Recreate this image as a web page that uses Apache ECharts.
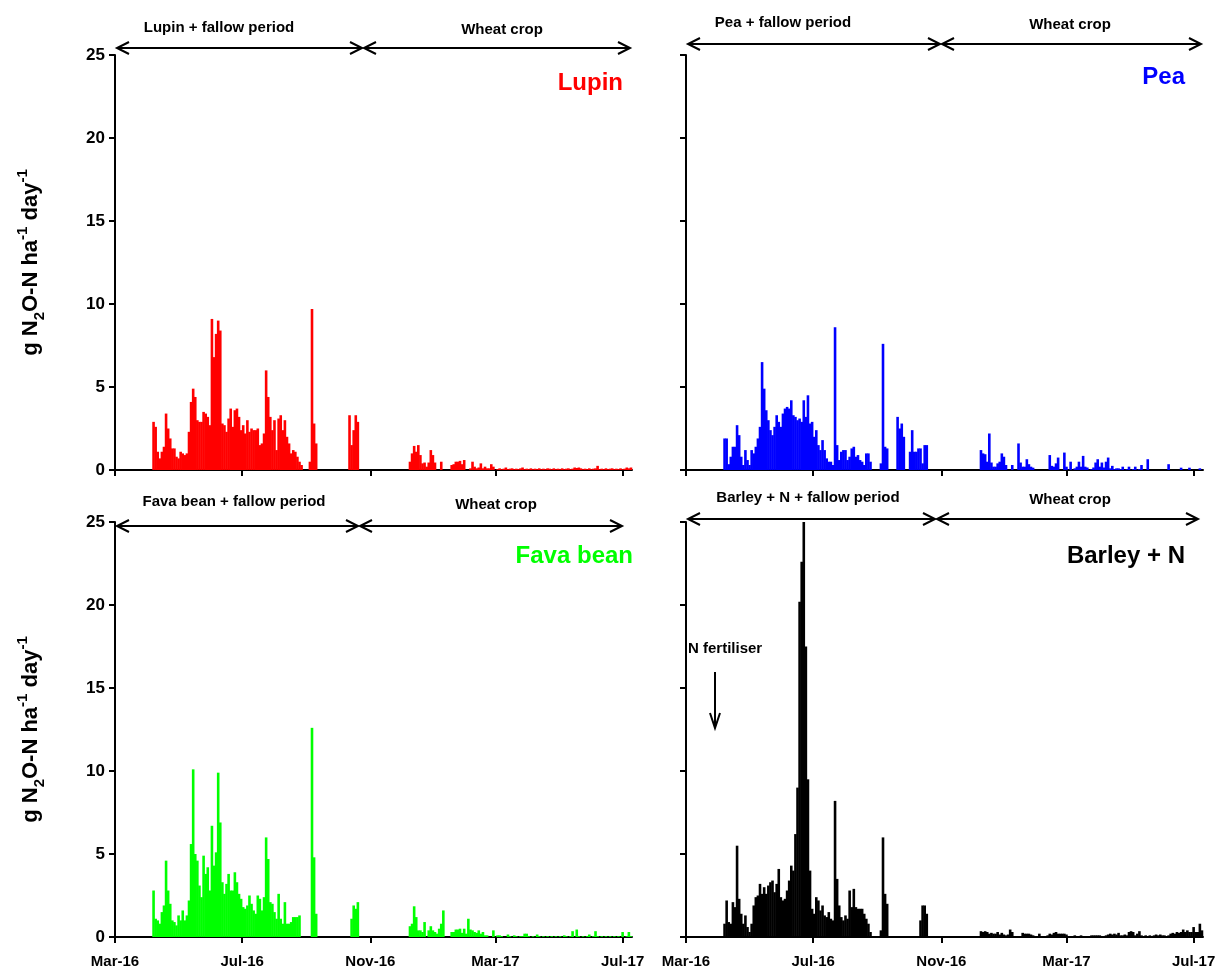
<!DOCTYPE html>
<html>
<head>
<meta charset="utf-8">
<script src="https://cdn.jsdelivr.net/npm/echarts@6/dist/echarts.min.js"></script>
<style>
  html, body { margin: 0; padding: 0; background: #fff; }
  #chart { width: 1229px; height: 977px; }
</style>
</head>
<body>
<div id="chart"></div>
<script>
'use strict';

// daily N2O flux, one value every 2 days starting 1 Apr 2016 (g N2O-N / ha / day)
var lupin = [
  0, 0, 0, 2.9, 2.6, 1.1, 0.7, 1.1, 1.4, 3.4,
  2.5, 1.9, 1.3, 1.3, 0.8, 0.7, 1.1, 1.0, 0.9, 1.0,
  2.3, 4.1, 4.9, 4.4, 3.0, 2.9, 2.9, 3.5, 3.4, 3.2,
  2.7, 9.1, 6.8, 8.2, 9.0, 8.4, 2.8, 2.7, 2.3, 3.1,
  3.7, 2.6, 3.6, 3.7, 3.2, 2.4, 2.7, 2.2, 3.0, 2.3,
  2.5, 2.4, 2.4, 2.5, 1.5, 1.6, 2.2, 6.0, 4.4, 3.2,
  2.4, 3.0, 1.2, 3.1, 3.3, 2.4, 3.0, 2.0, 1.6, 1.0,
  1.2, 1.1, 0.8, 0.5, 0.3, 0, 0, 0, 0.5, 9.7,
  2.8, 1.6, 0, 0, 0, 0, 0, 0, 0, 0,
  0, 0, 0, 0, 0, 0, 0, 3.3, 1.5, 2.4,
  3.3, 2.9, 0, 0, 0, 0, 0, 0, 0, 0,
  0, 0, 0, 0, 0, 0, 0, 0, 0, 0,
  0, 0, 0, 0, 0, 0, 0.5, 1.0, 1.45, 1.1,
  1.5, 0.9, 0.4, 0.45, 0.2, 0.45, 1.2, 0.9, 0.45, 0,
  0, 0.5, 0, 0, 0, 0, 0.3, 0.35, 0.5, 0.5,
  0.55, 0.35, 0.6, 0, 0, 0.1, 0.5, 0.2, 0.1, 0.15,
  0.4, 0.1, 0.2, 0.1, 0.1, 0.35, 0.2, 0, 0.05, 0.1,
  0.05, 0.08, 0.15, 0.05, 0.08, 0.1, 0.05, 0.08, 0.05, 0.1,
  0.15, 0.05, 0.08, 0.05, 0.1, 0.05, 0.08, 0.05, 0.1, 0.05,
  0.08, 0.05, 0.1, 0.08, 0.05, 0.1, 0.05, 0.08, 0.05, 0.1,
  0.05, 0.08, 0.1, 0.05, 0.08, 0.15, 0.12, 0.15, 0.1, 0.05,
  0.08, 0.05, 0.1, 0.05, 0.08, 0.1, 0.25, 0.05, 0.08, 0.05,
  0.1, 0.05, 0.08, 0.1, 0.05, 0.08, 0.05, 0.1, 0.05, 0.08,
  0.15, 0.1, 0.15
];

var pea = [
  0, 0, 0, 1.9, 1.9, 0.35, 0.8, 1.4, 1.4, 2.7,
  2.1, 0.8, 0.3, 1.2, 0.6, 0.3, 1.2, 1.0, 1.4, 1.9,
  2.6, 6.5, 4.9, 3.6, 3.0, 2.4, 2.1, 2.6, 3.3, 2.9,
  2.6, 3.4, 3.7, 3.8, 3.7, 4.2, 3.3, 3.2, 3.0, 3.1,
  2.9, 4.2, 3.2, 4.5, 2.8, 2.9, 2.0, 2.4, 1.5, 1.2,
  1.8, 1.2, 0.7, 0.5, 0.5, 0.3, 8.6, 1.5, 0.6, 1.1,
  1.2, 1.2, 0.6, 0.8, 1.3, 1.4, 0.8, 0.9, 0.6, 0.5,
  0.3, 1.0, 1.0, 0.5, 0, 0, 0, 0, 0.4, 7.6,
  1.4, 1.3, 0, 0, 0, 0, 3.2, 2.5, 2.8, 2.0,
  0, 0, 1.1, 2.4, 1.1, 1.1, 1.3, 1.3, 0.4, 1.5,
  1.5, 0, 0, 0, 0, 0, 0, 0, 0, 0,
  0, 0, 0, 0, 0, 0, 0, 0, 0, 0,
  0, 0, 0, 0, 0, 0, 1.2, 1.0, 0.95, 0.5,
  2.2, 0.45, 0.2, 0.2, 0.4, 0.5, 1.0, 0.8, 0.3, 0,
  0, 0.3, 0, 0, 1.6, 0.45, 0.2, 0.2, 0.65, 0.35,
  0.2, 0.14, 0, 0, 0, 0, 0, 0, 0, 0.9,
  0.25, 0.2, 0.4, 0.75, 0, 0, 1.05, 0.2, 0, 0.5,
  0, 0.1, 0.2, 0.5, 0.2, 0.85, 0.2, 0.15, 0, 0.05,
  0.15, 0.45, 0.65, 0.2, 0.45, 0.15, 0.5, 0.75, 0.1, 0.25,
  0.05, 0.1, 0.1, 0.05, 0.2, 0, 0.05, 0.2, 0, 0.05,
  0.2, 0, 0.05, 0.3, 0, 0, 0.65, 0, 0, 0,
  0, 0, 0, 0, 0, 0, 0.35, 0, 0, 0,
  0, 0, 0.14, 0, 0, 0, 0.14, 0, 0, 0,
  0, 0.1, 0
];

var fava = [
  0, 0, 0, 2.8, 1.1, 1.0, 0.8, 1.5, 1.9, 4.6,
  2.8, 2.0, 1.0, 0.9, 0.7, 1.3, 1.0, 1.6, 1.0, 1.3,
  2.2, 5.6, 10.1, 5.0, 4.6, 3.1, 2.4, 4.9, 3.8, 4.2,
  2.8, 6.7, 4.3, 5.1, 9.9, 6.9, 3.3, 2.6, 3.2, 3.8,
  2.8, 2.8, 3.9, 3.3, 2.6, 2.3, 1.8, 1.7, 1.9, 2.5,
  2.0, 1.6, 1.4, 2.5, 2.3, 1.6, 2.4, 6.0, 4.7, 2.1,
  2.0, 1.5, 1.1, 2.6, 1.1, 0.8, 2.1, 0.8, 0.8, 0.9,
  1.2, 1.2, 1.2, 1.3, 0, 0, 0, 0, 0, 12.6,
  4.8, 1.4, 0, 0, 0, 0, 0, 0, 0, 0,
  0, 0, 0, 0, 0, 0, 0, 0, 1.1, 1.9,
  1.7, 2.1, 0, 0, 0, 0, 0, 0, 0, 0,
  0, 0, 0, 0, 0, 0, 0, 0, 0, 0,
  0, 0, 0, 0, 0, 0, 0.65, 0.8, 1.85, 1.2,
  0.4, 0.4, 0.3, 0.9, 0, 0.4, 0.65, 0.4, 0.3, 0.2,
  0.5, 0.8, 1.6, 0, 0, 0, 0.3, 0.3, 0.45, 0.45,
  0.5, 0.25, 0.5, 0.2, 1.1, 0.45, 0.4, 0.3, 0.25, 0.4,
  0.2, 0.3, 0.1, 0.1, 0, 0, 0.4, 0, 0.1, 0.1,
  0.05, 0, 0, 0.15, 0.05, 0, 0.1, 0.05, 0, 0.05,
  0.05, 0.2, 0.2, 0.05, 0, 0.05, 0, 0.15, 0.05, 0,
  0.05, 0, 0.05, 0, 0.05, 0, 0.05, 0, 0.05, 0,
  0.1, 0.05, 0, 0.05, 0.35, 0, 0.45, 0.05, 0, 0.05,
  0, 0.05, 0.15, 0, 0.05, 0.35, 0.05, 0, 0.05, 0,
  0.05, 0, 0.05, 0, 0.05, 0, 0.05, 0, 0.3, 0,
  0.05, 0.3, 0.05
];

var barleyN = [
  0, 0, 0, 0.8, 2.2, 0.9, 0.8, 2.1, 1.8, 5.5,
  2.3, 1.4, 0.8, 1.3, 0.6, 0.3, 0.8, 1.9, 2.4, 2.5,
  3.2, 2.6, 3.0, 2.6, 3.1, 3.3, 3.4, 2.7, 3.2, 4.1,
  2.4, 2.2, 2.3, 2.8, 3.4, 4.3, 4.0, 6.2, 9.0, 20.2,
  22.6, 25.0, 17.5, 9.5, 4.0, 1.7, 1.4, 2.4, 2.2, 1.6,
  1.9, 1.3, 1.2, 1.5, 1.1, 1.0, 8.2, 3.5, 1.9, 1.2,
  1.0, 1.3, 1.1, 2.8, 1.8, 2.9, 1.8, 1.7, 1.7, 1.7,
  1.4, 1.1, 0.8, 0.3, 0, 0, 0, 0, 0.4, 6.0,
  2.6, 2.0, 0, 0, 0, 0, 0, 0, 0, 0,
  0, 0, 0, 0, 0, 0, 0, 1.0, 1.9, 1.9,
  1.4, 0, 0, 0, 0, 0, 0, 0, 0, 0,
  0, 0, 0, 0, 0, 0, 0, 0, 0, 0,
  0, 0, 0, 0, 0, 0, 0.35, 0.3, 0.35, 0.3,
  0.2, 0.25, 0.2, 0.2, 0.3, 0.15, 0.25, 0.15, 0.1, 0.15,
  0.45, 0.3, 0, 0, 0.05, 0, 0.25, 0.2, 0.2, 0.2,
  0.15, 0.1, 0.05, 0.05, 0.2, 0.05, 0.05, 0.05, 0.1, 0.2,
  0.15, 0.25, 0.3, 0.2, 0.2, 0.2, 0.2, 0.15, 0.05, 0.05,
  0.05, 0.1, 0.05, 0.05, 0.1, 0.05, 0.05, 0.05, 0.05, 0.1,
  0.1, 0.1, 0.1, 0.1, 0.05, 0.05, 0.1, 0.15, 0.2, 0.15,
  0.2, 0.15, 0.25, 0.1, 0.1, 0.15, 0.1, 0.3, 0.35, 0.3,
  0.1, 0.2, 0.35, 0.1, 0.05, 0.1, 0.05, 0.1, 0.05, 0.1,
  0.15, 0.1, 0.15, 0.1, 0.1, 0.05, 0.1, 0.2, 0.25, 0.2,
  0.3, 0.25, 0.3, 0.45, 0.3, 0.4, 0.3, 0.3, 0.6, 0.3,
  0.3, 0.8, 0.4
];

var tickDates = [Date.UTC(2016, 2, 1), Date.UTC(2016, 6, 1), Date.UTC(2016, 10, 1), Date.UTC(2017, 2, 1), Date.UTC(2017, 6, 1)];
var tickLabels = ['Mar-16', 'Jul-16', 'Nov-16', 'Mar-17', 'Jul-17'];

var DAY = 86400000;
var startDate = Date.UTC(2016, 3, 1);
var FONT = '"Liberation Sans", Arial, sans-serif';

function toPairs(values) {
    return values.map(function (v, i) { return [startDate + i * 2 * DAY, v]; });
}

var panels = [
    { name: 'Lupin', color: '#ff0000', data: lupin, left: 115, top: 55, yLabels: true, xLabels: false },
    { name: 'Pea', color: '#0000ff', data: pea, left: 686, top: 55, yLabels: false, xLabels: false },
    { name: 'Fava bean', color: '#00ff00', data: fava, left: 115, top: 522, yLabels: true, xLabels: true },
    { name: 'Barley + N', color: '#000000', data: barleyN, left: 686, top: 522, yLabels: false, xLabels: true }
];

var grids = [], xAxes = [], yAxes = [], series = [];
panels.forEach(function (p, k) {
    grids.push({ left: p.left, top: p.top, width: 517, height: 415 });
    // dates kept as plain timestamps on a value axis so the ticks can sit on the 1st of the month
    xAxes.push({
        type: 'value',
        gridIndex: k,
        min: Date.UTC(2016, 2, 1),
        max: Date.UTC(2017, 6, 10),
        splitLine: { show: false },
        axisLine: { onZero: false, lineStyle: { color: '#000', width: 2 } },
        axisTick: { show: true, inside: false, length: 6, lineStyle: { color: '#000', width: 2 }, customValues: tickDates },
        axisLabel: {
            show: p.xLabels,
            customValues: tickDates,
            margin: 17,
            color: '#000',
            fontFamily: FONT,
            fontWeight: 'bold',
            fontSize: 15,
            showMinLabel: true,
            showMaxLabel: true,
            hideOverlap: false,
            formatter: function (v) {
                var idx = tickDates.indexOf(v);
                return idx >= 0 ? tickLabels[idx] : '';
            }
        }
    });
    yAxes.push({
        type: 'value',
        gridIndex: k,
        min: 0,
        max: 25,
        interval: 5,
        splitLine: { show: false },
        axisLine: { show: true, lineStyle: { color: '#000', width: 2 } },
        axisTick: { show: true, inside: false, length: 6, lineStyle: { color: '#000', width: 2 } },
        axisLabel: {
            show: p.yLabels,
            margin: 10,
            color: '#000',
            fontFamily: FONT,
            fontWeight: 'bold',
            fontSize: 17
        },
        name: p.yLabels ? '{b|g N}{sub|2}{b|O-N ha}{sup|-1}{b| day}{sup|-1}' : '',
        nameLocation: 'middle',
        nameGap: 68,
        nameTextStyle: {
            color: '#000',
            fontFamily: FONT,
            fontWeight: 'bold',
            rich: {
                b: { fontFamily: FONT, fontWeight: 'bold', fontSize: 22, lineHeight: 32, color: '#000' },
                sub: { fontFamily: FONT, fontWeight: 'bold', fontSize: 15, lineHeight: 16, verticalAlign: 'bottom', color: '#000' },
                sup: { fontFamily: FONT, fontWeight: 'bold', fontSize: 15, lineHeight: 16, verticalAlign: 'top', color: '#000' }
            }
        }
    });
    series.push({
        type: 'bar',
        name: p.name,
        xAxisIndex: k,
        yAxisIndex: k,
        barWidth: 2.6,
        itemStyle: { color: p.color },
        data: toPairs(p.data)
    });
});

// double headed period arrows + their captions
function periodArrow(x1, x2, y) {
    var s = { stroke: '#000', lineWidth: 2, fill: null };
    return [
        { type: 'line', shape: { x1: x1, y1: y, x2: x2, y2: y }, style: s },
        { type: 'polyline', shape: { points: [[x1 + 12, y - 6], [x1, y], [x1 + 12, y + 6]] }, style: s },
        { type: 'polyline', shape: { points: [[x2 - 12, y - 6], [x2, y], [x2 - 12, y + 6]] }, style: s }
    ];
}

function label(text, x, y, size, color, align) {
    return {
        type: 'text', x: x, y: y,
        style: { text: text, fill: color, font: 'bold ' + size + 'px ' + FONT, align: align || 'center', verticalAlign: 'middle' }
    };
}

var graphics = [].concat(
    periodArrow(117, 362, 48), periodArrow(364, 630, 48),
    periodArrow(688, 940, 44), periodArrow(942, 1201, 44),
    periodArrow(117, 358, 526), periodArrow(360, 622, 526),
    periodArrow(688, 935, 519), periodArrow(937, 1198, 519),
    [
        label('Lupin + fallow period', 219, 28, 15, '#000'),
        label('Wheat crop', 502, 30, 15, '#000'),
        label('Pea + fallow period', 783, 23, 15, '#000'),
        label('Wheat crop', 1070, 25, 15, '#000'),
        label('Fava bean + fallow period', 234, 502, 15, '#000'),
        label('Wheat crop', 496, 505, 15, '#000'),
        label('Barley + N + fallow period', 808, 498, 15, '#000'),
        label('Wheat crop', 1070, 500, 15, '#000'),
        label('Lupin', 623, 83, 24, '#ff0000', 'right'),
        label('Pea', 1185, 77, 24, '#0000ff', 'right'),
        label('Fava bean', 633, 556, 24, '#00ff00', 'right'),
        label('Barley + N', 1185, 556, 24, '#000000', 'right'),
        label('N fertiliser', 688, 649, 15, '#000', 'left'),
        { type: 'line', shape: { x1: 715, y1: 672, x2: 715, y2: 727 }, style: { stroke: '#000', lineWidth: 2 } },
        { type: 'polyline', shape: { points: [[710, 713], [715, 728], [720, 713]] }, style: { stroke: '#000', lineWidth: 2, fill: null } }
    ]
);

var chart = echarts.init(document.getElementById('chart'), null, { renderer: 'canvas' });
chart.setOption({
    animation: false,
    backgroundColor: '#fff',
    grid: grids,
    xAxis: xAxes,
    yAxis: yAxes,
    series: series,
    graphic: graphics
});
</script>
</body>
</html>
